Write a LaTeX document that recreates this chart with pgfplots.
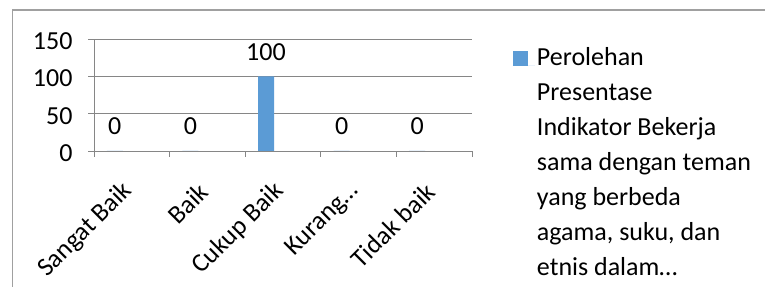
\documentclass[border=0pt]{standalone}
\usepackage{pgfplots}
\pgfplotsset{compat=1.18}
\usepackage{fontspec}
\setmainfont{Carlito}
\definecolor{barblue}{HTML}{5B9BD5}
\definecolor{axgray}{HTML}{868686}
\definecolor{framegray}{HTML}{A0A0A0}
\begin{document}
\begin{tikzpicture}
\useasboundingbox (0,0) rectangle (765bp,287bp);
\draw[framegray, line width=1.3bp] (12.5bp,0bp) -- (12.5bp,277bp) -- (765bp,277bp);
\begin{axis}[
  at={(94bp,136bp)}, anchor=south west,
  scale only axis, width=378bp, height=112bp,
  xmin=-0.5, xmax=4.5, ymin=0, ymax=150,
  axis lines*=left, axis line style={-, axgray, line width=0.9bp},
  ytick={0,50,100,150},
  ymajorgrids, grid style={axgray, line width=0.9bp},
  xtick={0,1,2,3,4},
  xticklabels={Sangat Baik, Baik, Cukup Baik, Kurang\ldots, Tidak baik},
  minor xtick={-0.5,0.5,1.5,2.5,3.5,4.5},
  major x tick style={draw=none},
  minor x tick style={axgray, line width=0.9bp},
  y tick style={axgray, line width=0.9bp},
  tick align=outside, major tick length=6bp, minor tick length=6bp,
  font=\fontsize{26bp}{31bp}\selectfont,
  /pgf/number format/assume math mode=true,
  yticklabel style={anchor=east, xshift=-12bp, yshift=-2bp},
  xticklabel style={xshift=-1bp, yshift=-28bp, rotate=45, anchor=east},
  ybar, bar width=16bp, bar shift=-17bp,
  nodes near coords,
  every node near coord/.append style={anchor=center, yshift=24.5bp, font=\fontsize{26bp}{31bp}\selectfont},
  legend style={at={(1.10,1.021)}, anchor=north west, draw=none, fill=none,
    font=\fontsize{26bp}{35bp}\selectfont, nodes={anchor=base west}},
  legend image code/.code={\fill[barblue] (0bp,-0.5bp) rectangle (15bp,14.5bp); \path (0bp,0bp) -- (22bp,0bp);},
  legend cell align=left,
]
\addplot[fill=barblue, draw=none] coordinates {(0,0) (1,0) (2,100) (3,0) (4,0)};
\addlegendentry{\begin{tabular}[t]{@{}l@{}}Perolehan\\Presentase\\Indikator Bekerja\\sama dengan teman\\yang berbeda\\agama, suku, dan\\etnis dalam\ldots\end{tabular}}
\end{axis}
\end{tikzpicture}
\end{document}
